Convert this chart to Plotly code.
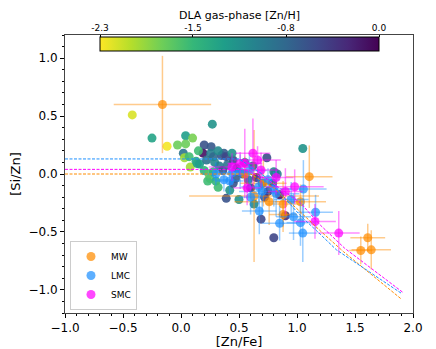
import plotly.graph_objects as go

# ---------------- data ----------------
# DLA points: [Zn/Fe], [Si/Zn], gas-phase [Zn/H]
dla_znfe = [-0.42, -0.25, -0.12, 0.04, -0.03, 0.04, 0.10, 0.02, 0.03, 0.08, 0.14, 0.27, 0.20, 0.26,
            0.07, 0.19, 0.13, 0.16, 0.256, 0.28, 0.35, 0.37, 0.39, 0.29, 0.25, 0.30, 0.32, 0.42,
            0.39, 0.50, 0.47, 0.74, 0.69, 0.63, 0.45, 0.81, 0.80, 0.90, 0.83, 0.79, 1.05, 0.80,
            0.22, 0.33, 0.36, 0.40, 0.45, 0.48, 0.53, 0.58, 0.60, 0.65, 0.70, 0.72, 0.75, 0.55,
            0.62, 0.20, 0.15, 0.32, 0.23, 0.85, 0.44, 0.24, 0.28]
dla_sizn = [0.51, 0.31, 0.24, 0.33, 0.25, 0.26, 0.31, 0.18, 0.14, 0.06, 0.09, 0.43, 0.25, 0.235,
            0.15, 0.18, 0.11, 0.086, 0.178, 0.15, 0.16, 0.18, 0.15, 0.10, -0.04, -0.06, -0.115, -0.14,
            -0.21, -0.22, -0.04, 0.14, -0.39, -0.26, -0.08, 0.006, -0.55, -0.36, 0.0, -0.08, 0.22, 0.02,
            0.12, 0.07, 0.03, 0.08, 0.12, 0.05, 0.00, -0.05, -0.12, -0.03, -0.08, -0.20, -0.15, 0.10,
            0.07, 0.03, 0.20, 0.20, -0.06, -0.18, 0.18, 0.0, 0.02]
dla_znh = [-2.2, -1.35, -2.3, -1.3, -1.8, -1.8, -1.85, -0.9, -2.0, -2.0, -1.3, -1.2, -0.6, -0.65,
           -1.6, -0.1, -1.4, -1.3, -1.0, -0.8, -0.6, -0.7, -0.5, -1.1, -1.8, -1.5, -1.6, -1.2,
           -0.6, -1.2, -0.7, -0.55, -0.5, -1.1, -0.6, -0.5, -0.5, -0.3, -1.0, -0.55, -1.2, -1.1,
           -0.9, -1.0, -0.6, -0.9, -0.5, -0.4, -0.6, -0.8, -0.4, -0.3, -0.6, -0.5, -0.2, -1.0,
           -0.7, -1.5, -1.6, -1.1, -1.6, -0.1, -1.2, -1.7, -1.5]

# Milky Way
mw_znfe = [-0.16, 0.63, 1.106, 1.03, 0.88, 0.88, 1.61, 1.55, 1.64, 0.71, 0.76, 0.55]
mw_sizn = [0.60, -0.19, -0.023, -0.24, -0.26, -0.35, -0.55, -0.66, -0.655, -0.08, -0.24, 0.0]
mw_znfe_err = [0.42, 0.56, 0.20, 0.22, 0.15, 0.12, 0.15, 0.10, 0.17, 0.20, 0.30, 0.15]
mw_sizn_err = [0.42, 0.57, 0.27, 0.15, 0.20, 0.15, 0.12, 0.12, 0.17, 0.20, 0.20, 0.15]

# LMC
lmc_znfe = [0.37, 0.44, 0.51, 0.59, 0.67, 0.70, 0.80, 0.675, 0.85, 0.82, 1.055, 1.16, 0.97, 1.03,
            1.05, 0.95, 0.60, 0.42, 0.75, 0.30]
lmc_sizn = [-0.05, 0.01, 0.02, 0.03, -0.11, -0.15, -0.13, -0.32, -0.425, -0.17, -0.13, -0.33, -0.37,
            -0.42, -0.51, -0.22, -0.20, -0.06, -0.05, 0.0]
lmc_znfe_err = [0.10, 0.12, 0.10, 0.15, 0.15, 0.20, 0.15, 0.15, 0.15, 0.20, 0.20, 0.15, 0.15, 0.12,
                0.12, 0.15, 0.10, 0.12, 0.10, 0.12]
lmc_sizn_err = [0.10, 0.10, 0.15, 0.15, 0.15, 0.20, 0.15, 0.20, 0.15, 0.20, 0.25, 0.15, 0.20, 0.20,
                0.25, 0.15, 0.15, 0.12, 0.10, 0.10]

# SMC
smc_znfe = [0.62, 0.55, 0.44, 0.57, 0.51, 0.69, 0.82, 0.90, 0.98, 1.155, 1.36, 0.66]
smc_sizn = [0.18, 0.09, 0.06, -0.12, 0.09, 0.035, -0.03, -0.15, -0.11, -0.41, -0.51, 0.12]
smc_znfe_err = [0.15, 0.15, 0.20, 0.12, 0.10, 0.15, 0.15, 0.15, 0.25, 0.18, 0.18, 0.20]
smc_sizn_err = [0.30, 0.30, 0.12, 0.15, 0.10, 0.15, 0.15, 0.20, 0.15, 0.15, 0.19, 0.12]

# dashed relations
mw_fit_x = [-1.0, 0.6, 0.8, 1.0, 1.2, 1.4, 1.9]
mw_fit_y = [0.0, 0.0, -0.12, -0.30, -0.49, -0.67, -1.08]
lmc_fit_x = [-1.0, 0.5, 0.7, 1.04, 1.2, 1.34, 1.9]
lmc_fit_y = [0.13, 0.13, 0.0, -0.37, -0.52, -0.655, -1.03]
smc_fit_x = [-1.0, 0.55, 0.75, 1.03, 1.2, 1.41, 1.91]
smc_fit_y = [0.04, 0.04, -0.05, -0.25, -0.44, -0.64, -1.02]

cbar_vals = [-2.3333, -1.5556, -0.7778, 0.0]
cbar_text = ["-2.3", "-1.5", "-0.8", "0.0"]

# ---------------- figure ----------------
# the page body adds an 8px offset; the figure is sized so the plot lands where the reference has it
OFF = 8
W, H = 436 - OFF, 349 - OFF
L, R, T, B = 65 - OFF, 23, 35 - OFF, 36
pw, ph = W - L - R, H - T - B

def px_x(p):
    return (p - OFF - L) / pw

def px_y(p):
    return (H - B - (p - OFF)) / ph

fig = go.Figure()

fig.add_trace(go.Scatter(
    x=dla_znfe, y=dla_sizn, mode="markers", showlegend=False,
    marker=dict(size=9, color=dla_znh, colorscale="Viridis", reversescale=True,
                cmin=-2.3333, cmax=0.0, opacity=0.9, line=dict(width=0),
                colorbar=dict(orientation="h", x=px_x(239.5), xanchor="center",
                              y=px_y(37), yanchor="top", len=279, lenmode="pixels",
                              thickness=14, thicknessmode="pixels", xpad=0, ypad=0,
                              outlinewidth=1, outlinecolor="black",
                              showticklabels=False, ticks="")),
))

series = [
    ("MW", mw_znfe, mw_sizn, mw_znfe_err, mw_sizn_err, "255,140,0"),
    ("LMC", lmc_znfe, lmc_sizn, lmc_znfe_err, lmc_sizn_err, "30,144,255"),
    ("SMC", smc_znfe, smc_sizn, smc_znfe_err, smc_sizn_err, "255,0,255"),
]
for name, xs, ys, xe, ye, rgb in series:
    fig.add_trace(go.Scatter(
        x=xs, y=ys, mode="markers", name=name,
        marker=dict(size=9, color=f"rgba({rgb},0.72)", line=dict(width=0)),
        error_x=dict(type="data", array=xe, color=f"rgba({rgb},0.45)", thickness=1.5, width=0),
        error_y=dict(type="data", array=ye, color=f"rgba({rgb},0.45)", thickness=1.5, width=0),
    ))

for fx, fy, col in [(mw_fit_x, mw_fit_y, "darkorange"),
                    (lmc_fit_x, lmc_fit_y, "dodgerblue"),
                    (smc_fit_x, smc_fit_y, "magenta")]:
    fig.add_trace(go.Scatter(x=fx, y=fy, mode="lines", showlegend=False, hoverinfo="skip",
                             line=dict(color=col, width=1, dash="3px,1.5px")))

# tick axis for colorbar
fig.add_trace(go.Scatter(x=[None], y=[None], xaxis="x2", yaxis="y", showlegend=False,
                         hoverinfo="skip"))

axis_font = dict(family="DejaVu Sans", size=13, color="black")
tick_font = dict(family="DejaVu Sans", size=12, color="black")
fig.update_layout(
    width=W, height=H, margin=dict(l=L, r=R, t=T, b=B, autoexpand=False),
    paper_bgcolor="white", plot_bgcolor="rgba(0,0,0,0)",
    font=dict(family="DejaVu Sans", color="black"),
    xaxis=dict(range=[-1.0, 2.0], tickvals=[-1.0, -0.5, 0.0, 0.5, 1.0, 1.5, 2.0], tickformat=".1f",
               ticks="outside", ticklen=4, tickcolor="black", showgrid=False, zeroline=False,
               showline=True, linecolor="#444", linewidth=1, mirror=True, automargin=False,
               minor=dict(dtick=0.1, ticks="outside", ticklen=2, tickcolor="black"),
               tickfont=tick_font, title=dict(text="[Zn/Fe]", font=axis_font, standoff=1)),
    yaxis=dict(range=[-1.2, 1.2], tickvals=[-1.0, -0.5, 0.0, 0.5, 1.0], tickformat=".1f",
               ticks="outside", ticklen=4, tickcolor="black", showgrid=False, zeroline=False,
               showline=True, linecolor="#444", linewidth=1, mirror=True, automargin=False,
               minor=dict(dtick=0.1, ticks="outside", ticklen=2, tickcolor="black"),
               tickfont=tick_font, title=dict(text="[Si/Zn]", font=axis_font, standoff=4)),
    xaxis2=dict(domain=[px_x(100), px_x(379)], range=[-2.3333, 0.0], anchor="free",
                position=px_y(37), side="top", tickvals=cbar_vals, automargin=False,
                ticktext=cbar_text, ticks="outside", ticklen=2, tickcolor="black",
                showgrid=False, zeroline=False, showline=False, fixedrange=True,
                tickfont=dict(family="DejaVu Sans", size=9, color="black"),
                title=dict(text="DLA gas-phase [Zn/H]",
                           font=dict(family="DejaVu Sans", size=11, color="black"), standoff=0)),
    legend=dict(x=px_x(70), y=px_y(310), xanchor="left", yanchor="bottom",
                bgcolor="white", bordercolor="#ccc", borderwidth=1,
                font=dict(family="DejaVu Sans", size=9, color="black"),
                itemwidth=30, tracegroupgap=0),
)

fig.write_html("out.html")
